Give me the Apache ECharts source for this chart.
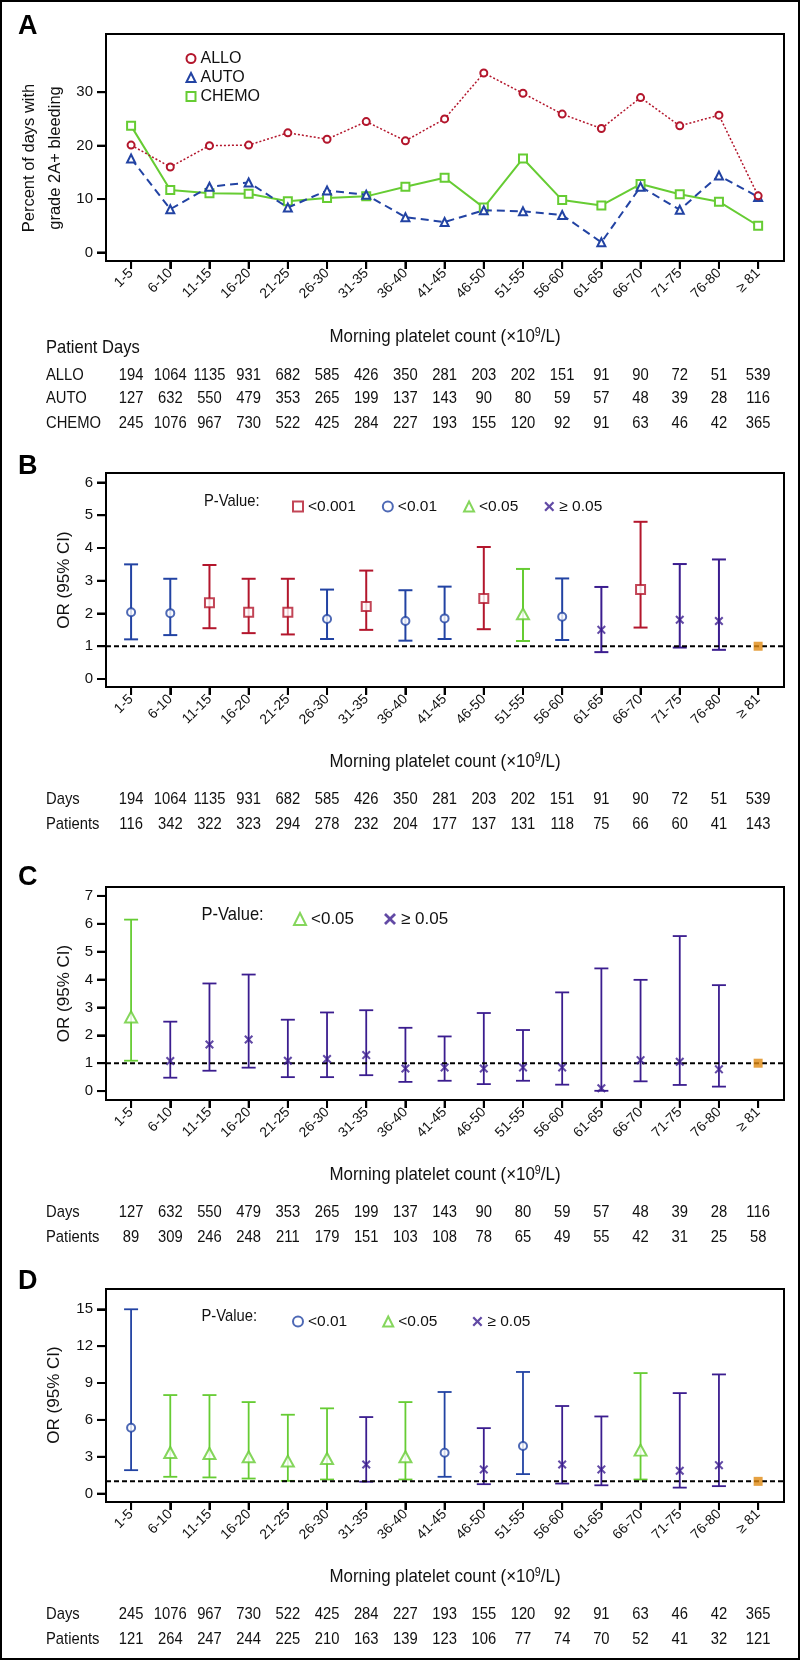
<!DOCTYPE html>
<html><head><meta charset="utf-8">
<script src="https://cdn.jsdelivr.net/npm/echarts@6/dist/echarts.min.js"></script>
<style>html,body{margin:0;padding:0;background:#fff}#c{width:800px;height:1660px}</style>
</head><body><div id="c"></div>
<script>
// ---------------- DATA ----------------
const categories = ['1-5','6-10','11-15','16-20','21-25','26-30','31-35','36-40','41-45','46-50','51-55','56-60','61-65','66-70','71-75','76-80','≥ 81'];

// Panel A: percent of days with grade 2A+ bleeding
const alloPct  = [20.1,16.0,20.0,20.1,22.4,21.2,24.5,20.9,25.0,33.6,29.8,25.9,23.2,29.0,23.7,25.7,10.6];
const autoPct  = [17.6,8.1,12.3,13.1,8.4,11.6,10.8,6.6,5.7,7.9,7.7,7.0,1.9,12.3,8.0,14.4,10.4];
const chemoPct = [23.7,11.7,11.1,11.0,9.6,10.2,10.5,12.3,14.0,8.4,17.6,9.8,8.8,12.8,10.9,9.5,5.0];

// Patient days / patients
const alloDays  = [194,1064,1135,931,682,585,426,350,281,203,202,151,91,90,72,51,539];
const autoDays  = [127,632,550,479,353,265,199,137,143,90,80,59,57,48,39,28,116];
const chemoDays = [245,1076,967,730,522,425,284,227,193,155,120,92,91,63,46,42,365];
const alloPatients  = [116,342,322,323,294,278,232,204,177,137,131,118,75,66,60,41,143];
const autoPatients  = [89,309,246,248,211,179,151,103,108,78,65,49,55,42,31,25,58];
const chemoPatients = [121,264,247,244,225,210,163,139,123,106,77,74,70,52,41,32,121];

// Panel B (ALLO) odds ratios
const orB = [2.04,2.01,2.33,2.04,2.04,1.83,2.21,1.77,1.85,2.46,1.99,1.90,1.50,2.73,1.81,1.77,1];
const loB = [1.21,1.34,1.55,1.40,1.36,1.22,1.50,1.17,1.22,1.52,1.16,1.19,0.82,1.57,0.96,0.89,null];
const hiB = [3.50,3.06,3.48,3.06,3.06,2.73,3.31,2.71,2.82,4.03,3.36,3.07,2.81,4.80,3.51,3.65,null];
const pB  = ['<0.01','<0.01','<0.001','<0.001','<0.001','<0.01','<0.001','<0.01','<0.01','<0.001','<0.05','<0.01','≥ 0.05','<0.001','≥ 0.05','≥ 0.05','ref'];

// Panel C (AUTO)
const orC = [2.66,1.08,1.67,1.85,1.09,1.15,1.29,0.81,0.85,0.81,0.85,0.85,0.10,1.11,1.05,0.78,1];
const loC = [1.09,0.48,0.73,0.84,0.50,0.50,0.57,0.33,0.37,0.25,0.37,0.23,0.01,0.35,0.22,0.16,null];
const hiC = [6.15,2.49,3.86,4.18,2.56,2.82,2.90,2.27,1.96,2.80,2.19,3.54,4.40,3.99,5.56,3.80,null];
const pC  = ['<0.05','≥ 0.05','≥ 0.05','≥ 0.05','≥ 0.05','≥ 0.05','≥ 0.05','≥ 0.05','≥ 0.05','≥ 0.05','≥ 0.05','≥ 0.05','≥ 0.05','≥ 0.05','≥ 0.05','≥ 0.05','ref'];

// Panel D (CHEMO)
const orD = [5.36,3.35,3.27,3.00,2.65,2.86,2.37,3.00,3.32,1.97,3.87,2.37,1.97,3.54,1.86,2.32,1];
const loD = [1.91,1.37,1.32,1.23,1.04,1.15,0.97,1.15,1.37,0.77,1.59,0.82,0.68,1.15,0.49,0.61,null];
const hiD = [15.0,8.02,8.02,7.45,6.42,6.94,6.23,7.45,8.27,5.33,9.90,7.13,6.28,9.81,8.18,9.70,null];
const pD  = ['<0.01','<0.05','<0.05','<0.05','<0.05','<0.05','≥ 0.05','<0.05','<0.01','≥ 0.05','<0.01','≥ 0.05','≥ 0.05','<0.05','≥ 0.05','≥ 0.05','ref'];

// tick labels
const yTicksA = [0,10,20,30];
const yTicksB = [0,1,2,3,4,5,6];
const yTicksC = [0,1,2,3,4,5,6,7];
const yTicksD = [0,3,6,9,12,15];

// ---------------- STYLE ----------------
const FONT = '"Liberation Sans",Arial,Helvetica,sans-serif';
const TXT = '#111';
const RED = '#b3162c', BLUE = '#2243a3', GREEN = '#66cc33', PURPLE = '#3b1d8f', ORANGE = '#e08a12';
const XPATH = 'path://M0,1.6L1.6,0L5,3.4L8.4,0L10,1.6L6.6,5L10,8.4L8.4,10L5,6.6L1.6,10L0,8.4L3.4,5Z';
const pStyle = {
  '<0.001': {color: RED, symbol: 'emptyRect', size: 9},
  '<0.01':  {color: BLUE, symbol: 'emptyCircle', size: 8},
  '<0.05':  {color: GREEN, symbol: 'emptyTriangle', size: [12, 11]},
  '≥ 0.05': {color: PURPLE, symbol: XPATH, size: 9}
};
const tickIdx = categories.map((c, i) => i);
const X_MIN = -0.64, X_MAX = 16.66;
const gridPos = [
  {top: 34, height: 227},
  {top: 473, height: 214},
  {top: 887, height: 213},
  {top: 1289, height: 213}
];
const yRanges = [[-1.6, 40.9], [-0.245, 6.29], [-0.32, 7.32], [-0.68, 16.65]];
const yTicks = [yTicksA, yTicksB, yTicksC, yTicksD];

const chart = echarts.init(document.getElementById('c'));

const grid = gridPos.map(g => ({left: 106, width: 678, top: g.top, height: g.height,
  show: true, borderColor: '#000', borderWidth: 2}));

const xAxis = gridPos.map((g, k) => ({
  type: 'value', gridIndex: k, min: X_MIN, max: X_MAX,
  axisLine: {show: true, onZero: false, lineStyle: {color: '#000', width: 2}}, splitLine: {show: false},
  axisTick: {show: true, customValues: tickIdx, length: 8, lineStyle: {color: '#000', width: 2}},
  axisLabel: {show: true, customValues: tickIdx, rotate: 45, margin: 10,
    formatter: v => categories[Math.round(v)], fontFamily: FONT, fontSize: 14, color: TXT}
}));

const yAxis = gridPos.map((g, k) => ({
  type: 'value', gridIndex: k, min: yRanges[k][0], max: yRanges[k][1],
  axisLine: {show: true, onZero: false, lineStyle: {color: '#000', width: 2}}, splitLine: {show: false},
  axisTick: {show: true, customValues: yTicks[k], length: 9, lineStyle: {color: '#000', width: 2}},
  axisLabel: {show: true, customValues: yTicks[k], margin: 13, fontFamily: FONT, fontSize: 15, color: TXT}
}));

const series = [
  {type: 'line', name: 'ALLO', xAxisIndex: 0, yAxisIndex: 0, data: alloPct.map((v, i) => [i, v]),
   symbol: 'emptyCircle', symbolSize: 7, itemStyle: {color: RED}, lineStyle: {color: RED, width: 1.5, type: [2, 2]}, z: 4},
  {type: 'line', name: 'AUTO', xAxisIndex: 0, yAxisIndex: 0, data: autoPct.map((v, i) => [i, v]),
   symbol: 'emptyTriangle', symbolSize: 8, itemStyle: {color: BLUE}, lineStyle: {color: BLUE, width: 2, type: [8, 5]}, z: 3},
  {type: 'line', name: 'CHEMO', xAxisIndex: 0, yAxisIndex: 0, data: chemoPct.map((v, i) => [i, v]),
   symbol: 'emptyRect', symbolSize: 8, itemStyle: {color: GREEN}, lineStyle: {color: GREEN, width: 2}, z: 2}
];

// outward tick marks drawn through the axes' own scales (safety for visibility)
gridPos.forEach((g, k) => {
  series.push({type: 'custom', xAxisIndex: k, yAxisIndex: k, z: 1, silent: true, clip: false,
    data: tickIdx.map(i => [i, yRanges[k][0]]), encode: {x: 0, y: 1},
    renderItem: (params, api) => {
      const p = api.coord([api.value(0), api.value(1)]);
      return {type: 'line', shape: {x1: p[0], y1: p[1], x2: p[0], y2: p[1] + 8}, style: {stroke: '#000', lineWidth: 2}};
    }});
  series.push({type: 'custom', xAxisIndex: k, yAxisIndex: k, z: 1, silent: true, clip: false,
    data: yTicks[k].map(v => [X_MIN, v]), encode: {x: 0, y: 1},
    renderItem: (params, api) => {
      const p = api.coord([api.value(0), api.value(1)]);
      return {type: 'line', shape: {x1: p[0] - 9, y1: p[1], x2: p[0], y2: p[1]}, style: {stroke: '#000', lineWidth: 2}};
    }});
});

function addPanel(k, or, lo, hi, p, barWidth) {
  series.push({
    type: 'custom', xAxisIndex: k, yAxisIndex: k, z: 2,
    data: or.map((v, i) => p[i] === 'ref' ? null : {value: [i, lo[i], hi[i]], itemStyle: {color: pStyle[p[i]].color}}).filter(d => d),
    encode: {x: 0, y: [1, 2]},
    renderItem: (params, api) => {
      const x = api.value(0);
      const a = api.coord([x, api.value(1)]);
      const b = api.coord([x, api.value(2)]);
      const st = {stroke: api.visual('color'), lineWidth: barWidth};
      const w = 7;
      return {type: 'group', children: [
        {type: 'line', shape: {x1: a[0], y1: a[1], x2: b[0], y2: b[1]}, style: st},
        {type: 'line', shape: {x1: b[0] - w, y1: b[1], x2: b[0] + w, y2: b[1]}, style: st},
        {type: 'line', shape: {x1: a[0] - w, y1: a[1], x2: a[0] + w, y2: a[1]}, style: st}
      ]};
    }
  });
  series.push({type: 'line', xAxisIndex: k, yAxisIndex: k, z: 3, silent: true, symbol: 'none',
    data: [[X_MIN, 1], [X_MAX, 1]], lineStyle: {color: '#000', width: 2, type: [5, 3]}});
  Object.keys(pStyle).forEach(key => {
    const d = [];
    or.forEach((v, i) => { if (p[i] === key) d.push([i, v]); });
    if (!d.length) return;
    series.push({type: 'scatter', name: key, xAxisIndex: k, yAxisIndex: k, z: 4, data: d,
      symbol: pStyle[key].symbol, symbolSize: pStyle[key].size, itemStyle: {color: pStyle[key].color}});
  });
  const r = [];
  or.forEach((v, i) => { if (p[i] === 'ref') r.push([i, v]); });
  series.push({type: 'scatter', name: 'ref', xAxisIndex: k, yAxisIndex: k, z: 5, data: r,
    symbol: 'rect', symbolSize: 9, itemStyle: {color: ORANGE}});
}
addPanel(1, orB, loB, hiB, pB, 2);
addPanel(2, orC, loC, hiC, pC, 1.8);
addPanel(3, orD, loD, hiD, pD, 1.8);

function legItems(keys) {
  return keys.map(k => ({name: k, icon: pStyle[k].symbol}));
}
const legend = [
  {orient: 'vertical', left: 180.5, top: 44, itemWidth: 9, itemHeight: 9, itemGap: 0,
   data: [{name: 'ALLO', icon: 'emptyCircle'}, {name: 'AUTO', icon: 'emptyTriangle'}, {name: 'CHEMO', icon: 'emptyRect'}],
   textStyle: {fontFamily: FONT, fontSize: 16, color: TXT, lineHeight: 19}, selectedMode: false},
  {orient: 'horizontal', left: 287, top: 492.5, itemWidth: 10, itemHeight: 10, itemGap: 26,
   data: legItems(['<0.001', '<0.01', '<0.05', '≥ 0.05']),
   textStyle: {fontFamily: FONT, fontSize: 15.5, color: TXT, lineHeight: 18}, selectedMode: false},
  {orient: 'horizontal', left: 288, top: 904, itemWidth: 12, itemHeight: 12, itemGap: 30,
   data: legItems(['<0.05', '≥ 0.05']),
   textStyle: {fontFamily: FONT, fontSize: 17, color: TXT, lineHeight: 20}, selectedMode: false},
  {orient: 'horizontal', left: 287, top: 1307.5, itemWidth: 10, itemHeight: 10, itemGap: 35,
   data: legItems(['<0.01', '<0.05', '≥ 0.05']),
   textStyle: {fontFamily: FONT, fontSize: 15.5, color: TXT, lineHeight: 18}, selectedMode: false}
];

chart.setOption({animation: false, backgroundColor: '#fff', grid, xAxis, yAxis, series, legend});

// ---------------- TEXT (titles, tables) ----------------
const xs = categories.map((c, i) => chart.convertToPixel({xAxisIndex: 0}, i));
const g = [];
const SX = 0.87;
function txt(x, y, text, size, align, sx) {
  g.push({type: 'text', x, y, scaleX: sx || SX, silent: true,
    style: {text, fontSize: size, fontFamily: FONT, fill: TXT, align: align || 'left', verticalAlign: 'middle'}});
}
function row(y, label, vals) {
  txt(46, y, label, 17, 'left');
  vals.forEach((v, i) => txt(xs[i], y, String(v), 17, 'center'));
}
// panel letters
[['A', 27], ['B', 466.7], ['C', 878], ['D', 1281.7]].forEach(([l, y]) =>
  g.push({type: 'text', x: 18, y, silent: true, style: {text: l, fontSize: 27, fontWeight: 'bold', fontFamily: FONT, fill: '#000', align: 'left', verticalAlign: 'middle'}}));
// x-axis titles
[337, 761.7, 1175, 1576.7].forEach(y => g.push({type: 'text', x: 445, y, scaleX: 0.89, silent: true,
  style: {text: '{a|Morning platelet count (×10}{s|9}{a|/L)}', align: 'center', verticalAlign: 'middle',
    rich: {a: {fontSize: 19, fontFamily: FONT, fill: TXT}, s: {fontSize: 12, fontFamily: FONT, fill: TXT, padding: [0, 0, 9, 0]}}}}));
// y-axis titles
g.push({type: 'text', x: 42, y: 158, rotation: Math.PI / 2, silent: true,
  style: {text: 'Percent of days with\ngrade 2A+ bleeding', fontSize: 16.5, lineHeight: 26, fontFamily: FONT, fill: TXT, align: 'center', verticalAlign: 'middle'}});
[[64, 580], [64, 993.5], [54, 1395]].forEach(([x, y]) => g.push({type: 'text', x, y, rotation: Math.PI / 2, silent: true,
  style: {text: 'OR (95% CI)', fontSize: 17, fontFamily: FONT, fill: TXT, align: 'center', verticalAlign: 'middle'}}));
// P-Value labels
txt(204, 501.7, 'P-Value:', 17);
txt(201.5, 914.3, 'P-Value:', 19);
txt(201.5, 1316.7, 'P-Value:', 17);
// tables
txt(46, 348, 'Patient Days', 19);
row(375, 'ALLO', alloDays);
row(398.5, 'AUTO', autoDays);
row(423, 'CHEMO', chemoDays);
row(799.3, 'Days', alloDays);
row(824.3, 'Patients', alloPatients);
row(1212.7, 'Days', autoDays);
row(1237, 'Patients', autoPatients);
row(1614.3, 'Days', chemoDays);
row(1639.3, 'Patients', chemoPatients);
// outer frame
g.push({type: 'rect', silent: true, z: 100, shape: {x: 1, y: 1, width: 798, height: 1658}, style: {fill: 'none', stroke: '#000', lineWidth: 2}});

chart.setOption({graphic: {elements: g}});
</script></body></html>
